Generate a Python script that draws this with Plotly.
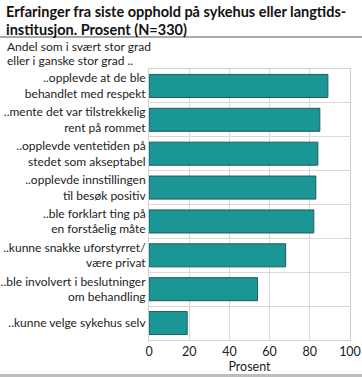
import plotly.graph_objects as go

categories = [
    "..opplevde at de ble<br>behandlet med respekt",
    "..mente det var tilstrekkelig<br>rent på rommet",
    "..opplevde ventetiden på<br>stedet som akseptabel",
    "..opplevde innstillingen<br>til besøk positiv",
    "..ble forklart ting på<br>en forståelig måte",
    "..kunne snakke uforstyrret/<br>være privat",
    "..ble involvert i beslutninger<br>om behandling",
    "..kunne velge sykehus selv",
]
values = [89, 85, 84, 83, 82, 68, 54, 19]
x_ticks = [0, 20, 40, 60, 80, 100]

title_lines = ["Erfaringer fra siste opphold på sykehus eller langtids-",
               "institusjon. Prosent (N=330)"]
subtitle_lines = ["Andel som i svært stor grad", "eller i ganske stor grad .."]

W, H = 362, 377
L, R, T, B = 149, 350, 69, 340
FONT = "Lato"

def px(x):
    return (x - L) / (R - L)

def py(y):
    return (B - y) / (B - T)

fig = go.Figure()
fig.add_trace(go.Bar(
    x=values, y=categories, orientation="h",
    marker=dict(color="#1a9696", line=dict(color="#205a5a", width=1)),
    width=0.68, hoverinfo="x+y",
))
fig.add_trace(go.Scatter(x=[None], y=[None], yaxis="y2", showlegend=False))

n = len(categories)
fig.update_layout(
    width=W, height=H,
    margin=dict(l=L, r=W - R, t=T, b=H - B, pad=0),
    plot_bgcolor="white", paper_bgcolor="white",
    showlegend=False,
    font=dict(family=FONT, size=12, color="#222"),
    xaxis=dict(range=[0, 100], tickvals=x_ticks, showgrid=True, gridcolor="#d9d9d9",
               gridwidth=1, zeroline=False, showline=True, linecolor="#d0d0d0", mirror=True,
               ticks="", automargin=False, tickfont=dict(size=12.5, color="#222", family=FONT),
               title=dict(text="Prosent", standoff=2, font=dict(size=12.5, family=FONT))),
    yaxis=dict(type="category", range=[n - 0.5, -0.5], showgrid=False, zeroline=False,
               showline=True, linecolor="#d0d0d0", mirror=True, ticks="", automargin=False,
               tickfont=dict(size=12, color="#222", family=FONT)),
    yaxis2=dict(overlaying="y", range=[n - 0.5, -0.5],
                tickvals=[i + 0.5 for i in range(n - 1)], showticklabels=False,
                showgrid=True, gridcolor="#d9d9d9", gridwidth=1, zeroline=False, ticks="",
                automargin=False, layer="below traces"),
    bargap=0.32,
)

ann = []
for t, y in zip(title_lines, [12, 30]):
    ann.append(dict(text=t, xref="paper", yref="paper", x=px(4), y=py(y), xanchor="left",
                    yanchor="middle", showarrow=False,
                    font=dict(family=FONT, size=14.5, color="#111", weight="bold")))
for t, y in zip(subtitle_lines, [46.5, 61]):
    ann.append(dict(text=t, xref="paper", yref="paper", x=px(5), y=py(y), xanchor="left",
                    yanchor="middle", showarrow=False,
                    font=dict(family=FONT, size=12, color="#222")))
fig.update_layout(annotations=ann)

fig.add_shape(type="line", xref="paper", yref="paper", x0=px(0), x1=px(W), y0=py(37), y1=py(37),
              line=dict(color="#8c8c8c", width=1.5))
fig.add_shape(type="line", xref="paper", yref="paper", x0=px(0), x1=px(W), y0=py(375.5), y1=py(375.5),
              line=dict(color="#bdbdbd", width=3))

fig.write_html("out.html", config={"displayModeBar": False},
               post_script="document.body.style.margin='0';document.body.style.overflow='hidden';")
